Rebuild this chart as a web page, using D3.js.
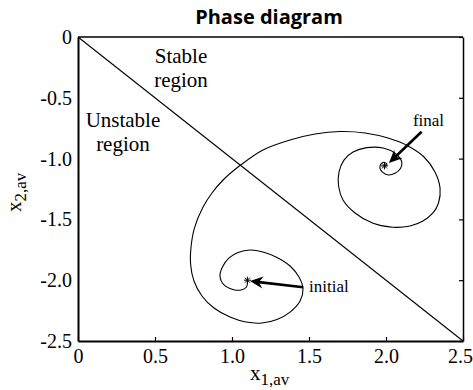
<!DOCTYPE html>
<html>
<head>
<meta charset="utf-8">
<script src="https://cdn.jsdelivr.net/npm/d3@7"></script>
<style>
  body { margin: 0; background: #fff; }
  svg { display: block; }
</style>
</head>
<body>
<div id="chart"></div>
<script>
"use strict";

// trajectory (x1,av , x2,av), from initial to final
const trajX = [1.101, 1.094, 1.058, 1.006, 0.948, 0.922, 0.938, 0.981, 1.039, 1.117,
  1.201, 1.292, 1.377, 1.435, 1.461, 1.442, 1.377, 1.292, 1.195, 1.091,
  0.987, 0.883, 0.805, 0.753, 0.731, 0.734, 0.756, 0.812, 0.870, 0.942,
  1.052, 1.201, 1.377, 1.539, 1.701, 1.864, 2.013, 2.143, 2.247, 2.318,
  2.351, 2.341, 2.305, 2.240, 2.156, 2.045, 1.916, 1.799, 1.721, 1.692,
  1.695, 1.727, 1.786, 1.875, 1.981, 2.058, 2.102, 2.095, 2.058, 2.015,
  1.979, 1.961, 1.966, 1.987, 2.006, 1.989];
const trajY = [-2.007, -2.056, -2.081, -2.076, -2.039, -1.965, -1.891, -1.817, -1.772, -1.752,
  -1.768, -1.813, -1.883, -1.974, -2.072, -2.171, -2.262, -2.323, -2.352, -2.344,
  -2.303, -2.229, -2.130, -2.007, -1.867, -1.727, -1.571, -1.398, -1.283, -1.176,
  -1.057, -0.929, -0.847, -0.798, -0.777, -0.789, -0.831, -0.896, -0.987, -1.110,
  -1.242, -1.365, -1.447, -1.513, -1.554, -1.565, -1.532, -1.447, -1.340, -1.225,
  -1.110, -1.012, -0.946, -0.910, -0.913, -0.956, -1.025, -1.080, -1.121, -1.135,
  -1.113, -1.080, -1.047, -1.030, -1.049, -1.065];

// stability boundary x2 = -x1
const boundaryX = [0, 2.5];
const boundaryY = [0, -2.5];

const markerNames = ["initial", "final"];
const markerX = [1.10, 1.99];
const markerY = [-2.00, -1.06];

const xTicks = [0, 0.5, 1.0, 1.5, 2.0, 2.5];
const xTickLabels = ["0", "0.5", "1.0", "1.5", "2.0", "2.5"];
const yTicks = [0, -0.5, -1.0, -1.5, -2.0, -2.5];
const yTickLabels = ["0", "-0.5", "-1.0", "-1.5", "-2.0", "-2.5"];

const width = 473, height = 390;
const margin = {top: 37, right: 10, bottom: 49, left: 78};
const plotW = width - margin.left - margin.right;
const plotH = height - margin.top - margin.bottom;

const svg = d3.select("#chart").append("svg")
  .attr("width", width)
  .attr("height", height);

const xScale = d3.scaleLinear().domain([0, 2.5]).range([margin.left, margin.left + plotW]);
const yScale = d3.scaleLinear().domain([-2.5, 0]).range([margin.top + plotH, margin.top]);

const serif = "'Liberation Serif', 'Times New Roman', serif";

// title
svg.append("text")
  .attr("x", 269)
  .attr("y", 24)
  .attr("text-anchor", "middle")
  .style("font-family", "'Open Sans', 'Noto Sans', sans-serif")
  .style("font-weight", "bold")
  .style("font-size", "20px")
  .text("Phase diagram");

// axes
const xAxis = d3.axisBottom(xScale).tickValues(xTicks)
  .tickFormat((d, i) => xTickLabels[i]).tickSizeInner(-4).tickSizeOuter(0).tickPadding(8);
const yAxis = d3.axisLeft(yScale).tickValues(yTicks)
  .tickFormat((d, i) => yTickLabels[i]).tickSize(0).tickPadding(6);
const yAxisRight = d3.axisRight(yScale).tickValues(yTicks)
  .tickFormat("").tickSizeInner(-4).tickSizeOuter(0);

const gx = svg.append("g")
  .attr("transform", `translate(0, ${margin.top + plotH})`)
  .call(xAxis);
const gy = svg.append("g")
  .attr("transform", `translate(${margin.left}, 0)`)
  .call(yAxis);
const gr = svg.append("g")
  .attr("transform", `translate(${margin.left + plotW}, 0)`)
  .call(yAxisRight);

[gx, gy, gr].forEach(g => {
  g.selectAll("text")
    .style("font-family", serif)
    .style("font-size", "20px")
    .attr("fill", "#000");
  g.selectAll("line").attr("stroke", "#000").attr("stroke-width", 1.2);
});
gx.selectAll("text").attr("dy", "0.71em");
// last label sits against the right edge
gx.selectAll(".tick text").filter(d => d === 2.5).attr("dx", -3);
gy.select(".domain").attr("stroke", "#000").attr("stroke-width", 2);
gx.select(".domain").attr("stroke", "#000").attr("stroke-width", 2);
gr.select(".domain").attr("stroke", "#000").attr("stroke-width", 1.5);

// top frame line
svg.append("line")
  .attr("x1", xScale(0)).attr("x2", xScale(2.5))
  .attr("y1", yScale(0)).attr("y2", yScale(0))
  .attr("stroke", "#000").attr("stroke-width", 1.5);

// axis labels
const xl = svg.append("text")
  .attr("x", 250)
  .attr("y", 380)
  .style("font-family", serif)
  .style("font-size", "21px");
xl.append("tspan").text("x");
xl.append("tspan").attr("dy", 5).style("font-size", "17px").text("1,av");

const yl = svg.append("text")
  .attr("transform", "translate(21, 212) rotate(-90)")
  .style("font-family", serif)
  .style("font-size", "21px");
yl.append("tspan").text("x");
yl.append("tspan").attr("dy", 5).style("font-size", "17px").text("2,av");

// boundary line
const line = d3.line()
  .x(d => xScale(d[0]))
  .y(d => yScale(d[1]));

svg.append("path")
  .datum(boundaryX.map((v, i) => [v, boundaryY[i]]))
  .attr("d", line)
  .attr("fill", "none")
  .attr("stroke", "#000")
  .attr("stroke-width", 1.1);

// trajectory
svg.append("path")
  .datum(trajX.map((v, i) => [v, trajY[i]]))
  .attr("d", line.curve(d3.curveCatmullRom.alpha(0.5)))
  .attr("fill", "none")
  .attr("stroke", "#000")
  .attr("stroke-width", 1.1);

// asterisk markers
markerNames.forEach((name, i) => {
  const cx = xScale(markerX[i]), cy = yScale(markerY[i]);
  const r = 3.5;
  const g = svg.append("g").attr("stroke", "#000").attr("stroke-width", 1);
  [0, 45, 90, 135].forEach(a => {
    const rad = a * Math.PI / 180;
    g.append("line")
      .attr("x1", cx - r * Math.cos(rad)).attr("y1", cy - r * Math.sin(rad))
      .attr("x2", cx + r * Math.cos(rad)).attr("y2", cy + r * Math.sin(rad));
  });
});

// region labels
const regionText = [
  {lines: ["Stable", "region"], x: 0.669, y: -0.214},
  {lines: ["Unstable", "region"], x: 0.292, y: -0.740}
];
regionText.forEach(t => {
  const tx = svg.append("text")
    .attr("x", xScale(t.x))
    .attr("y", yScale(t.y))
    .attr("text-anchor", "middle")
    .style("font-family", serif)
    .style("font-size", "21px");
  t.lines.forEach((s, j) => {
    tx.append("tspan").attr("x", xScale(t.x)).attr("dy", j === 0 ? 0 : 24).text(s);
  });
});

// arrows with labels
const arrows = [
  {label: "final", lx: 2.175, ly: -0.732, x0: 2.231, y0: -0.779, x1: 2.019, y1: -1.036},
  {label: "initial", lx: 1.50, ly: -2.097, x0: 1.463, y0: -2.058, x1: 1.117, y1: -2.007}
];
arrows.forEach(a => {
  const sx = xScale(a.x0), sy = yScale(a.y0);
  const ex = xScale(a.x1), ey = yScale(a.y1);
  const ang = Math.atan2(ey - sy, ex - sx);
  const ux = Math.cos(ang), uy = Math.sin(ang);
  const headLen = 13, headW = 6, notch = 9;
  svg.append("line")
    .attr("x1", sx).attr("y1", sy)
    .attr("x2", ex - ux * notch).attr("y2", ey - uy * notch)
    .attr("stroke", "#000")
    .attr("stroke-width", 2.6);
  const pts = [
    [ex, ey],
    [ex - ux * headLen - uy * headW, ey - uy * headLen + ux * headW],
    [ex - ux * notch, ey - uy * notch],
    [ex - ux * headLen + uy * headW, ey - uy * headLen - ux * headW]
  ];
  svg.append("polygon")
    .attr("points", pts.map(p => p.join(",")).join(" "))
    .attr("fill", "#000");
  svg.append("text")
    .attr("x", xScale(a.lx))
    .attr("y", yScale(a.ly))
    .style("font-family", serif)
    .style("font-size", "17px")
    .text(a.label);
});
</script>
</body>
</html>
